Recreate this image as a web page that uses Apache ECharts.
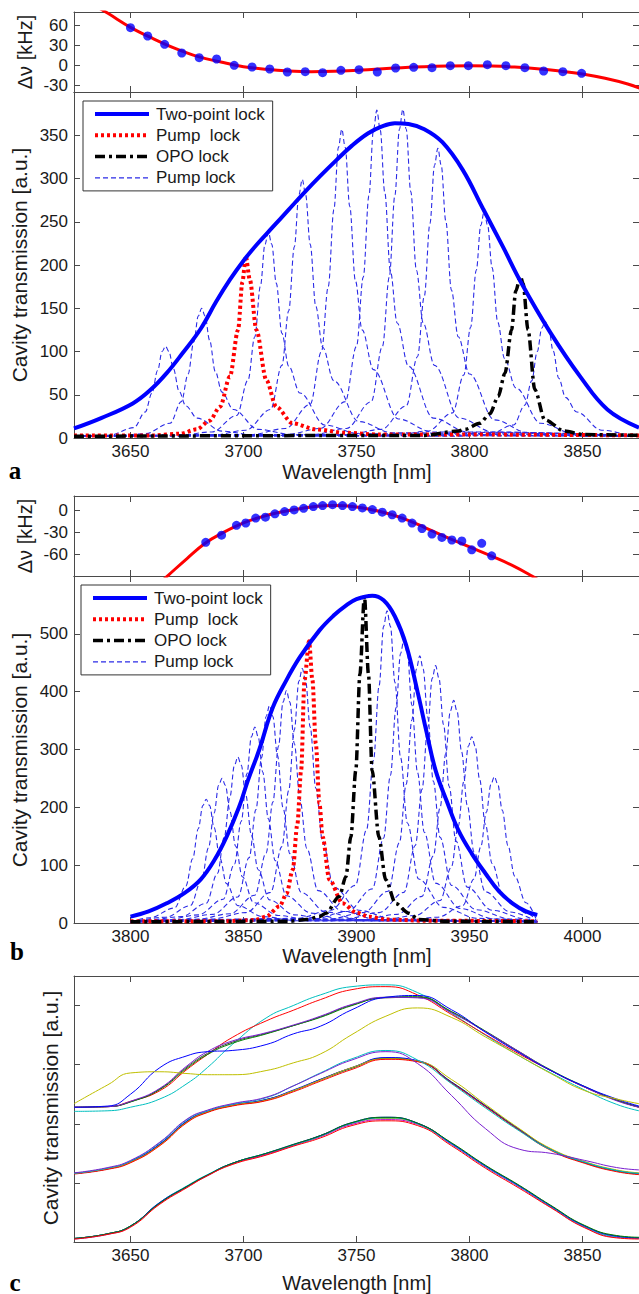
<!DOCTYPE html>
<html>
<head>
<meta charset="utf-8">
<script src="https://cdn.jsdelivr.net/npm/echarts@6/dist/echarts.min.js"></script>
<style>
  html, body { margin: 0; padding: 0; background: #fff; }
  #chart { width: 639px; height: 1294px; }
</style>
</head>
<body>
<div id="chart"></div>
<script>
// ---------------- data ----------------
// (a) detuning measurements and polynomial fit
const detuneWaveA = [3650, 3657.6, 3665.1, 3672.7, 3680.4, 3688.1, 3695.9, 3703.8, 3711.6, 3719.4, 3727.3, 3735.0, 3743.1, 3751.1, 3759.2, 3767.3, 3775.3, 3783.4, 3791.5, 3799.5, 3807.9, 3816.1, 3824.5, 3832.8, 3841.3, 3849.6];
const detuneValA  = [56.5, 44, 31.5, 18.5, 11.5, 9.5, 0, -2.5, -5.5, -10, -9.5, -11, -7.5, -6.5, -10, -4, -3, -3.5, -0.5, -0.5, 1, -0.5, -3.5, -8.5, -9.5, -12];
const fitWaveA = [3633, 3640, 3650, 3660, 3670, 3680, 3690, 3700, 3710, 3720, 3730, 3740, 3750, 3760, 3770, 3780, 3790, 3800, 3810, 3820, 3830, 3840, 3850, 3860, 3870, 3876];
const fitValA  = [92, 78, 57, 40, 25, 13, 5, -2, -6, -8.5, -9.5, -9, -7.5, -5.5, -3.5, -2, -1, -0.5, -1, -2.5, -5, -8.5, -13, -19.5, -28, -35];

// (b) detuning measurements and polynomial fit
const detuneWaveB = [3833.3, 3840.3, 3846.9, 3851.0, 3855.4, 3859.7, 3863.9, 3868.2, 3872.4, 3876.6, 3880.9, 3885.0, 3889.4, 3893.8, 3898.2, 3902.6, 3907.0, 3911.4, 3915.8, 3920.2, 3924.6, 3929.0, 3933.4, 3937.8, 3942.2, 3946.6, 3951.0, 3955.4, 3959.8];
const detuneValB  = [-43.7, -33.8, -20.3, -17.1, -10.4, -9.1, -4.5, -1.4, 0.9, 3.1, 5.4, 6.8, 8.1, 6.8, 5.4, 3.6, 1.4, -2.3, -5.8, -10.4, -17.2, -24.7, -32.4, -36.9, -40.5, -41.9, -54, -45, -62.2];
const fitWaveB = [3812, 3816.7, 3825, 3833, 3840, 3850, 3860, 3870, 3880, 3890, 3900, 3910, 3920, 3930, 3940, 3950, 3960, 3970, 3977, 3982];
const fitValB  = [-102, -89, -66, -45, -32, -17, -7, 0, 5, 7, 5, -1, -10, -23, -37, -50, -63, -77, -89, -98];

// (a) two-point lock envelope
const twoPointA = [[3625, 11], [3637, 23], [3651, 40], [3659, 56], [3666, 75], [3673, 98], [3681, 126], [3688, 158], [3694, 183], [3700, 205], [3706, 224], [3713, 244], [3720, 264], [3727, 284], [3734, 303], [3741, 321], [3748, 338], [3755, 352], [3761, 360], [3767, 364], [3773, 363], [3780, 357], [3788, 342], [3797, 310], [3806, 265], [3815, 220], [3823, 179], [3836, 121], [3849, 71], [3861, 33], [3875, 12]];
// (a) single pump lock and OPO lock
const pumpLockA = [[3625, 3], [3660, 3], [3672, 5], [3679.3, 10], [3685, 20], [3689.6, 36], [3694, 71], [3697.6, 125], [3699.5, 180], [3701, 210], [3702.8, 183], [3705.7, 125], [3710.1, 67], [3714.5, 36], [3721.7, 17], [3732, 10], [3745, 6], [3760, 4], [3800, 4], [3875, 3]];
const opoLockA = [[3625, 2], [3780, 3], [3795, 8], [3798, 10], [3804.6, 17], [3809, 28], [3812.7, 48], [3815.7, 75], [3818.6, 125], [3820.5, 170], [3822.5, 187], [3823.7, 179], [3825.9, 125], [3828.9, 56], [3833.3, 21], [3842, 8], [3850, 4], [3875, 3]];

// (b) two-point lock envelope, pump lock, OPO lock
const twoPointB = [[3800, 11], [3808, 20], [3816, 34], [3824, 52], [3831, 75], [3837, 108], [3842.5, 149], [3848, 200], [3852, 247], [3857, 300], [3863, 373], [3869, 420], [3875, 460], [3883.6, 506], [3890, 532], [3895, 548], [3900, 560], [3907, 566], [3912, 558], [3917, 530], [3922, 480], [3927, 400], [3931, 330], [3935, 264], [3940, 210], [3945, 161], [3951, 120], [3957, 86], [3963, 55], [3969, 34], [3975, 20], [3980, 14]];
const pumpLockB = [[3800, 3], [3840, 3], [3855, 5], [3860, 11], [3866, 29], [3869, 50], [3871.8, 92], [3873.8, 170], [3875.5, 264], [3877, 420], [3879, 487], [3880.5, 420], [3882, 310], [3883.6, 207], [3885, 149], [3888, 75], [3893.8, 34], [3900, 18], [3905.5, 11], [3913, 6], [3930, 4], [3980, 3]];
const opoLockB = [[3800, 2], [3870, 3], [3878, 6], [3883.6, 11], [3886.5, 17], [3892.4, 46], [3895.3, 80], [3897.5, 149], [3899.7, 264], [3901.5, 430], [3903.5, 565], [3905.3, 430], [3906.9, 264], [3909.9, 149], [3912.9, 75], [3917.3, 34], [3923.1, 17], [3927.5, 6], [3940, 3], [3980, 2]];

// scanned pump-lock resonances: sample positions relative to each line centre
const pumpOffsets = [-40, -25, -14, -9, -6, -3.5, -1.5, 0, 1.5, 3.5, 6, 9, 14, 25, 40];
const pumpBaseline = 2;
const pumpCentersA = [3665.5, 3681.5, 3711, 3726, 3743.5, 3759, 3770.5, 3786, 3806.5, 3833.5];
const pumpProfilesA = [
  [2, 3, 12, 30, 52, 78, 100, 106, 100, 80, 54, 37, 23, 8, 3],
  [2, 5, 17, 42, 74, 111, 141, 150, 141, 113, 77, 53, 33, 10, 4],
  [3, 7, 26, 67, 117, 176, 224, 238, 224, 179, 121, 83, 52, 15, 5],
  [3, 9, 33, 84, 147, 221, 281, 299, 281, 224, 152, 105, 66, 19, 6],
  [4, 11, 39, 100, 175, 264, 336, 357, 336, 268, 182, 125, 79, 22, 7],
  [4, 11, 42, 106, 186, 280, 356, 379, 356, 284, 193, 133, 83, 23, 7],
  [4, 11, 42, 106, 186, 281, 357, 380, 357, 285, 194, 133, 84, 23, 7],
  [4, 10, 37, 94, 164, 248, 315, 335, 315, 251, 171, 117, 74, 21, 6],
  [3, 8, 29, 73, 128, 194, 246, 262, 246, 197, 134, 92, 58, 17, 5],
  [2, 4, 15, 38, 66, 100, 127, 135, 127, 101, 69, 47, 30, 9, 3]
];
const pumpCentersB = [3833.5, 3840.5, 3847.5, 3855, 3861.5, 3869, 3876, 3913.5, 3921, 3928, 3935, 3943, 3951, 3961];
const pumpProfilesB = [
  [4, 9, 26, 64, 111, 163, 203, 214, 203, 165, 113, 68, 30, 11, 4],
  [4, 10, 30, 75, 130, 190, 238, 250, 238, 193, 133, 80, 35, 13, 4],
  [5, 11, 34, 86, 149, 218, 273, 287, 273, 221, 152, 92, 40, 14, 5],
  [5, 14, 41, 102, 176, 258, 322, 339, 322, 261, 180, 108, 47, 17, 5],
  [6, 15, 45, 113, 196, 286, 357, 376, 357, 290, 199, 120, 53, 19, 6],
  [6, 16, 48, 121, 209, 306, 382, 402, 382, 310, 213, 129, 56, 20, 6],
  [7, 18, 53, 132, 229, 334, 418, 440, 418, 339, 233, 141, 62, 22, 7],
  [8, 22, 65, 162, 281, 410, 513, 540, 513, 416, 286, 173, 76, 27, 8],
  [7, 20, 59, 147, 255, 372, 466, 490, 466, 377, 260, 157, 69, 25, 7],
  [7, 18, 55, 139, 240, 351, 439, 462, 439, 356, 245, 148, 65, 23, 7],
  [7, 18, 53, 134, 231, 338, 423, 445, 423, 343, 236, 142, 62, 22, 7],
  [6, 15, 46, 116, 200, 293, 366, 385, 366, 296, 204, 123, 54, 19, 6],
  [5, 13, 39, 97, 167, 245, 306, 322, 306, 248, 171, 103, 45, 16, 5],
  [4, 10, 30, 76, 132, 192, 240, 253, 240, 195, 134, 81, 35, 13, 4]
];

// (c) repeated two-point-lock scans, three offset groups
const scanWave = [3625, 3640, 3650, 3663, 3675, 3684, 3695, 3710, 3722, 3734, 3748, 3763, 3777, 3792, 3807, 3822, 3836, 3851, 3865, 3875];
const scanTop = {
  cyan:    [2.21, 2.22, 2.28, 2.42, 2.68, 2.95, 3.34, 3.79, 4.0, 4.18, 4.32, 4.35, 4.22, 3.87, 3.5, 3.15, 2.86, 2.57, 2.33, 2.22],
  red:     [2.28, 2.29, 2.38, 2.56, 2.92, 3.17, 3.46, 3.74, 3.92, 4.1, 4.27, 4.32, 4.18, 3.85, 3.51, 3.18, 2.9, 2.62, 2.4, 2.28],
  dark:    [2.28, 2.29, 2.37, 2.59, 2.96, 3.19, 3.38, 3.53, 3.66, 3.81, 4.01, 4.13, 4.14, 3.89, 3.56, 3.21, 2.9, 2.62, 2.4, 2.28],
  green:   [2.28, 2.29, 2.37, 2.58, 2.94, 3.17, 3.36, 3.52, 3.66, 3.8, 4.0, 4.14, 4.15, 3.9, 3.57, 3.22, 2.91, 2.63, 2.4, 2.29],
  purple:  [2.28, 2.29, 2.38, 2.6, 2.98, 3.22, 3.40, 3.54, 3.67, 3.82, 4.02, 4.14, 4.13, 3.88, 3.56, 3.22, 2.9, 2.62, 2.39, 2.28],
  blue:    [2.28, 2.3, 2.5, 2.95, 3.15, 3.22, 3.24, 3.34, 3.52, 3.65, 3.93, 4.14, 4.17, 3.93, 3.55, 3.2, 2.9, 2.63, 2.42, 2.3],
  yellow:  [2.34, 2.66, 2.86, 2.88, 2.85, 2.83, 2.83, 2.9, 3.03, 3.18, 3.51, 3.82, 3.96, 3.8, 3.47, 3.15, 2.85, 2.56, 2.42, 2.34]
};
const scanMid = {
  dark:    [1.16, 1.24, 1.35, 1.65, 2.04, 2.2, 2.31, 2.41, 2.56, 2.75, 2.95, 3.11, 3.06, 2.71, 2.31, 1.91, 1.57, 1.35, 1.21, 1.16],
  green:   [1.16, 1.24, 1.36, 1.65, 2.04, 2.2, 2.31, 2.4, 2.56, 2.74, 2.94, 3.11, 3.06, 2.7, 2.3, 1.9, 1.56, 1.34, 1.2, 1.15],
  blue:    [1.16, 1.24, 1.36, 1.66, 2.05, 2.21, 2.32, 2.41, 2.57, 2.75, 2.95, 3.12, 3.07, 2.7, 2.3, 1.9, 1.57, 1.35, 1.21, 1.16],
  yellow:  [1.16, 1.24, 1.35, 1.64, 2.03, 2.2, 2.31, 2.4, 2.56, 2.74, 2.95, 3.1, 3.06, 2.75, 2.33, 1.92, 1.58, 1.36, 1.22, 1.17],
  red:     [1.15, 1.23, 1.34, 1.63, 2.02, 2.19, 2.3, 2.39, 2.54, 2.72, 2.92, 3.09, 3.05, 2.69, 2.29, 1.89, 1.55, 1.33, 1.19, 1.14],
  cyan:    [1.16, 1.25, 1.37, 1.68, 2.07, 2.22, 2.33, 2.44, 2.64, 2.86, 3.1, 3.24, 3.08, 2.68, 2.27, 1.88, 1.56, 1.35, 1.21, 1.16],
  purple:  [1.17, 1.26, 1.38, 1.69, 2.08, 2.23, 2.34, 2.45, 2.64, 2.85, 3.08, 3.22, 3.02, 2.48, 1.92, 1.57, 1.5, 1.38, 1.26, 1.22]
};
const scanLow = {
  dark:    [0.06, 0.14, 0.27, 0.66, 0.94, 1.13, 1.33, 1.49, 1.64, 1.8, 2.01, 2.1, 2.01, 1.67, 1.29, 0.95, 0.61, 0.27, 0.1, 0.07],
  yellow:  [0.06, 0.14, 0.27, 0.66, 0.94, 1.13, 1.32, 1.49, 1.64, 1.79, 2.01, 2.09, 2.0, 1.67, 1.29, 0.95, 0.61, 0.27, 0.1, 0.07],
  magenta: [0.05, 0.13, 0.26, 0.65, 0.93, 1.12, 1.32, 1.48, 1.63, 1.78, 1.99, 2.07, 1.99, 1.65, 1.27, 0.93, 0.59, 0.25, 0.08, 0.06],
  cyan:    [0.06, 0.14, 0.27, 0.67, 0.95, 1.14, 1.33, 1.5, 1.64, 1.79, 2.01, 2.1, 2.0, 1.66, 1.28, 0.94, 0.6, 0.26, 0.09, 0.07],
  blue:    [0.06, 0.14, 0.27, 0.67, 0.94, 1.13, 1.33, 1.5, 1.65, 1.8, 2.02, 2.11, 2.01, 1.67, 1.29, 0.95, 0.61, 0.27, 0.1, 0.07],
  green:   [0.06, 0.14, 0.27, 0.66, 0.94, 1.13, 1.33, 1.5, 1.65, 1.8, 2.02, 2.11, 2.01, 1.68, 1.3, 0.96, 0.62, 0.28, 0.11, 0.08],
  red:     [0.05, 0.13, 0.25, 0.64, 0.92, 1.12, 1.31, 1.47, 1.62, 1.76, 1.97, 2.05, 1.97, 1.63, 1.25, 0.91, 0.58, 0.24, 0.07, 0.05]
};

// axis ranges and tick positions
const waveTicksA = [3650, 3700, 3750, 3800, 3850];
const waveTicksB = [3800, 3850, 3900, 3950, 4000];
const detuneTicksA = [-30, 0, 30, 60];
const detuneTicksB = [-60, -30, 0];
const transTicksA = [0, 50, 100, 150, 200, 250, 300, 350];
const transTicksB = [0, 100, 200, 300, 400, 500];
const scanTicks = [1, 2, 3, 4];

const legendNames = ['Two-point lock', 'Pump  lock', 'OPO lock', 'Pump lock'];

// ---------------- styling ----------------
const FONT = '"Liberation Sans", Arial, Helvetica, sans-serif';
const AXIS_COLOR = '#4a4a4a';
const TEXT_COLOR = '#1a1a1a';
const COLORS = {
  blue: '#0000ff', green: '#008000', red: '#ff0000', cyan: '#00bfbf',
  magenta: '#bf00bf', purple: '#7a1fd0', yellow: '#bfbf00', dark: '#404040'
};

const PLOT_LEFT = 74, PLOT_WIDTH = 567;
const panels = [
  { top: 12,  height: 80  },  // a: detuning
  { top: 92,  height: 346 },  // a: transmission
  { top: 496, height: 80  },  // b: detuning
  { top: 576, height: 347 },  // b: transmission
  { top: 976, height: 266 }   // c: repeated scans
];

const lineCol = { color: AXIS_COLOR, width: 1 };
const labelStyle = (ticks) => ({
  customValues: ticks, margin: 5, fontSize: 17, color: TEXT_COLOR, fontFamily: FONT,
  formatter: v => String(v)
});

function xPair(g, min, max, ticks, labels) {
  const base = {
    type: 'value', gridIndex: g, min, max,
    axisLine: { show: true, onZero: false, lineStyle: lineCol },
    axisTick: { show: true, inside: true, length: 6, customValues: ticks, lineStyle: lineCol },
    splitLine: { show: false }
  };
  return [
    Object.assign({}, base, { position: 'bottom', axisLabel: Object.assign({ show: labels }, labelStyle(ticks)) }),
    Object.assign({}, base, { position: 'top', axisLabel: { show: false } })
  ];
}

function yPair(g, min, max, ticks, labels) {
  const base = {
    type: 'value', gridIndex: g, min, max,
    axisLine: { show: true, onZero: false, lineStyle: lineCol },
    axisTick: { show: true, inside: true, length: 6, customValues: ticks, lineStyle: lineCol },
    splitLine: { show: false }
  };
  return [
    Object.assign({}, base, { position: 'left', axisLabel: Object.assign({ show: labels }, labelStyle(ticks), { margin: 6 }) }),
    Object.assign({}, base, { position: 'right', axisLabel: { show: false } })
  ];
}

const xAxis = [].concat(
  xPair(0, 3625, 3875, waveTicksA, false),
  xPair(1, 3625, 3875, waveTicksA, true),
  xPair(2, 3775, 4025, waveTicksB, false),
  xPair(3, 3775, 4025, waveTicksB, true),
  xPair(4, 3625, 3875, waveTicksA, true)
);
const yAxis = [].concat(
  yPair(0, -40, 80, detuneTicksA, true),
  yPair(1, 0, 400, transTicksA, true),
  yPair(2, -90, 20, detuneTicksB, true),
  yPair(3, 0, 600, transTicksB, true),
  yPair(4, 0, 4.5, scanTicks, false)
);

function zip(xs, ys) { return xs.map((x, i) => [x, ys[i]]); }

function line(g, name, data, style, extra) {
  return Object.assign({
    type: 'line', name, data,
    xAxisIndex: 2 * g, yAxisIndex: 2 * g,
    symbol: 'none', silent: true, animation: false,
    lineStyle: style
  }, extra || {});
}

const styleTwoPoint = { color: '#0000ff', width: 4 };
const stylePump = { color: '#ff0000', width: 4, type: [3, 3] };
const styleOpo = { color: '#000000', width: 3.5, type: [10, 4, 3, 4] };
const styleScan = { color: '#2b2be6', width: 1.1, type: [5, 3] };

function pumpScanSeries(g, centers, profiles, lo, hi) {
  return centers.map((c, i) => {
    const pts = pumpOffsets.map((o, k) => [c + o, profiles[i][k]])
      .filter(p => p[0] > lo && p[0] < hi);
    pts.unshift([lo, pumpBaseline]);
    pts.push([hi, pumpBaseline]);
    return line(g, 'Pump lock', pts, Object.assign({}, styleScan),
      { smooth: 0.35, smoothMonotone: 'x', z: 2, itemStyle: { color: styleScan.color } });
  });
}

const series = [];

// (a) detuning
series.push(line(0, 'fitA', zip(fitWaveA, fitValA), { color: '#ff0000', width: 3 }, { smooth: 0.4, z: 2 }));
series.push({ type: 'scatter', xAxisIndex: 0, yAxisIndex: 0, data: zip(detuneWaveA, detuneValA),
  symbolSize: 9, itemStyle: { color: '#0000ff' }, silent: true, animation: false, z: 3 });

// (a) transmission
series.push(...pumpScanSeries(1, pumpCentersA, pumpProfilesA, 3625, 3875));
series.push(line(1, 'Pump  lock', pumpLockA, stylePump, { smooth: 0.3, smoothMonotone: 'x', z: 3, itemStyle: { color: '#ff0000' } }));
series.push(line(1, 'OPO lock', opoLockA, styleOpo, { smooth: 0.3, smoothMonotone: 'x', z: 3, itemStyle: { color: '#000000' } }));
series.push(line(1, 'Two-point lock', twoPointA, styleTwoPoint, { smooth: 0.4, z: 4, itemStyle: { color: '#0000ff' } }));

// (b) detuning
series.push(line(2, 'fitB', zip(fitWaveB, fitValB), { color: '#ff0000', width: 3 }, { smooth: 0.4, z: 2 }));
series.push({ type: 'scatter', xAxisIndex: 4, yAxisIndex: 4, data: zip(detuneWaveB, detuneValB),
  symbolSize: 9, itemStyle: { color: '#0000ff' }, silent: true, animation: false, z: 3 });

// (b) transmission
series.push(...pumpScanSeries(3, pumpCentersB, pumpProfilesB, 3800, 3980));
series.push(line(3, 'Pump  lock', pumpLockB, stylePump, { smooth: 0.3, smoothMonotone: 'x', z: 3, itemStyle: { color: '#ff0000' } }));
series.push(line(3, 'OPO lock', opoLockB, styleOpo, { smooth: 0.3, smoothMonotone: 'x', z: 3, itemStyle: { color: '#000000' } }));
series.push(line(3, 'Two-point lock', twoPointB, styleTwoPoint, { smooth: 0.4, z: 4, itemStyle: { color: '#0000ff' } }));

// (c) repeated scans
[scanLow, scanMid, scanTop].forEach((group, gi) => {
  Object.keys(group).forEach(key => {
    series.push(line(4, 'scan' + gi + key, zip(scanWave, group[key]),
      { color: COLORS[key], width: 1 }, { smooth: 0.5, z: 2 }));
  });
});

// legend shows line samples only (no marker in the middle), at full line weight
const legendStyles = [styleTwoPoint, stylePump, styleOpo, styleScan];
const legendCommon = {
  data: legendNames.map((n, i) => ({
    name: n,
    lineStyle: Object.assign({}, legendStyles[i]),
    itemStyle: { color: 'rgba(0,0,0,0)', borderColor: 'rgba(0,0,0,0)', borderWidth: 0, opacity: 0 }
  })),
  orient: 'vertical', selectedMode: false,
  itemWidth: 54, itemHeight: 14, itemGap: 4.3,
  padding: [4.5, 8, 4.5, 10],
  itemStyle: { color: 'rgba(0,0,0,0)', borderColor: 'rgba(0,0,0,0)', borderWidth: 0, opacity: 0 },
  backgroundColor: '#ffffff', borderColor: '#333333', borderWidth: 1, borderRadius: 0,
  textStyle: { fontSize: 17, lineHeight: 17, color: TEXT_COLOR, fontFamily: FONT, padding: [0, 0, 0, 2] }
};

function vText(text, x, y, size) {
  return { type: 'text', x, y, rotation: Math.PI / 2, silent: true,
    style: { text, fontSize: size, fontFamily: FONT, fill: TEXT_COLOR, align: 'center', verticalAlign: 'middle' } };
}
function hText(text, x, y, size) {
  return { type: 'text', x, y, silent: true,
    style: { text, fontSize: size, fontFamily: FONT, fill: TEXT_COLOR, align: 'center', verticalAlign: 'middle' } };
}
function tag(text, x, y) {
  return { type: 'text', x, y, silent: true,
    style: { text, fontSize: 25, fontWeight: 'bold', fontFamily: '"Liberation Serif", "Times New Roman", serif',
      fill: '#000', align: 'center', verticalAlign: 'middle' } };
}

const option = {
  backgroundColor: '#ffffff',
  animation: false,
  grid: panels.map(p => ({ left: PLOT_LEFT, top: p.top, width: PLOT_WIDTH, height: p.height, containLabel: false })),
  xAxis, yAxis,
  legend: [
    Object.assign({}, legendCommon, { left: 83, top: 101 }),
    Object.assign({}, legendCommon, { left: 81, top: 585 })
  ],
  graphic: [
    vText('Δν [kHz]', 25, 52, 20),
    vText('Cavity transmission [a.u.]', 19, 265, 21),
    hText('Wavelength [nm]', 357, 472, 20),
    tag('a', 15, 470),
    vText('Δν [kHz]', 25, 536, 20),
    vText('Cavity transmission [a.u.]', 19, 750, 21),
    hText('Wavelength [nm]', 357, 956, 20),
    tag('b', 17, 951),
    vText('Cavity transmission [a.u.]', 50, 1108, 21),
    hText('Wavelength [nm]', 357, 1283, 20),
    tag('c', 15, 1282)
  ],
  series
};

const chart = echarts.init(document.getElementById('chart'), null, { renderer: 'svg' });
chart.setOption(option);
</script>
</body>
</html>
